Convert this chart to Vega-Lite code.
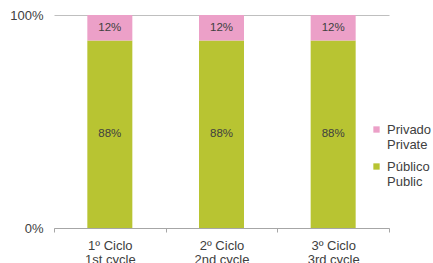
{
  "$schema": "https://vega.github.io/schema/vega-lite/v6.json",
  "width": 335,
  "height": 213,
  "autosize": "none",
  "padding": {"left": 54, "top": 15, "right": 44, "bottom": 35},
  "background": "white",
  "config": {
    "font": "Liberation Sans",
    "view": {"stroke": null}
  },
  "data": {
    "values": [
      {"ciclo": "1º Ciclo|1st cycle", "serie": "Público|Public", "value": 88},
      {"ciclo": "1º Ciclo|1st cycle", "serie": "Privado|Private", "value": 12},
      {"ciclo": "2º Ciclo|2nd cycle", "serie": "Público|Public", "value": 88},
      {"ciclo": "2º Ciclo|2nd cycle", "serie": "Privado|Private", "value": 12},
      {"ciclo": "3º Ciclo|3rd cycle", "serie": "Público|Public", "value": 88},
      {"ciclo": "3º Ciclo|3rd cycle", "serie": "Privado|Private", "value": 12}
    ]
  },
  "transform": [
    {"stack": "value", "groupby": ["ciclo"], "sort": [{"field": "serie", "order": "descending"}], "as": ["y0", "y1"]},
    {"calculate": "(datum.y0 + datum.y1) / 2", "as": "ymid"},
    {"calculate": "datum.value + '%'", "as": "label"}
  ],
  "encoding": {
    "x": {
      "field": "ciclo",
      "type": "nominal",
      "sort": null,
      "scale": {"paddingInner": 0, "paddingOuter": 0},
      "axis": {
        "title": null,
        "labelAngle": 0,
        "labelExpr": "split(datum.label, '|')",
        "labelFontSize": 13,
        "labelColor": "#404040",
        "labelLineHeight": 14,
        "labelPadding": 7,
        "tickBand": "extent",
        "tickSize": 4,
        "tickColor": "#a6a6a6",
        "domainColor": "#a6a6a6",
        "labelBaseline": "top"
      }
    }
  },
  "layer": [
    {
      "mark": {"type": "bar", "width": 45},
      "encoding": {
        "y": {
          "field": "y0",
          "type": "quantitative",
          "scale": {"domain": [0, 100]},
          "axis": {
            "title": null,
            "values": [0, 100],
            "labelExpr": "datum.value + '%'",
            "labelFontSize": 13,
            "labelColor": "#404040",
            "labelPadding": 11,
            "domain": false,
            "ticks": false,
            "gridColor": "#bfbfbf"
          }
        },
        "y2": {"field": "y1"},
        "color": {
          "field": "serie",
          "type": "nominal",
          "scale": {"domain": ["Privado|Private", "Público|Public"], "range": ["#eca0c8", "#b8c432"]},
          "legend": {
            "title": null,
            "orient": "none",
            "legendX": 316,
            "legendY": 108,
            "labelExpr": "split(datum.label, '|')",
            "labelFontSize": 13,
            "labelColor": "#404040",
            "labelLineHeight": 15,
            "symbolType": "square",
            "symbolSize": 40,
            "symbolStrokeWidth": 0,
            "labelOffset": 4,
            "rowPadding": 8
          }
        }
      }
    },
    {
      "mark": {"type": "text", "fontSize": 11.5, "color": "#404040"},
      "encoding": {
        "y": {"field": "ymid", "type": "quantitative"},
        "text": {"field": "label", "type": "nominal"}
      }
    }
  ]
}
